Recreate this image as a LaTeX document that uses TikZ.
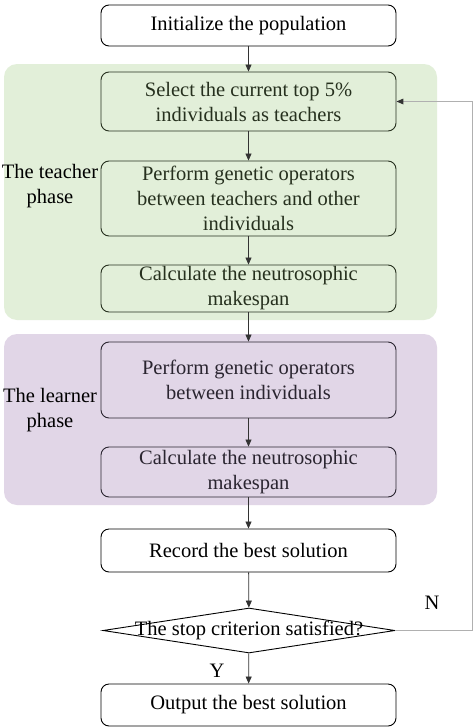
\documentclass[tikz,border=0pt]{standalone}
\usepackage{fontspec}
\setmainfont{Liberation Serif}
\usetikzlibrary{shapes.geometric,arrows.meta}
\definecolor{gfill}{HTML}{E2EFD9}
\definecolor{pfill}{HTML}{E1D6E7}
\definecolor{gtext}{HTML}{26301E}
\definecolor{ptext}{HTML}{2A2530}
\definecolor{loopc}{HTML}{B0B0B0}
\tikzset{
  x=1pt, y=-1pt,
  every node/.style={font=\rmfamily\fontsize{20.5}{25}\selectfont, inner sep=0pt},
  procbox/.style={draw, rounded corners=8pt, minimum width=295pt, align=center, line width=0.9pt},
  region/.style={rounded corners=13pt},
  arr/.style={-{Triangle[length=7pt,width=6pt]}, line width=0.8pt, draw=black!80},
}
\begin{document}
\begin{tikzpicture}
\useasboundingbox (0,0) rectangle (474,728);
\fill[white] (0,0) rectangle (474,728);
% regions
\fill[gfill, region] (4,64) rectangle (437,320);
\fill[pfill, region] (4,334) rectangle (437,505);
% boxes
\node[procbox, fill=white, minimum height=41pt] (init) at (248.5,25.5) {Initialize the population};
\node[procbox, draw=gtext, text=gtext, minimum height=59pt] (sel) at (248.5,101.5) {Select the current top 5\%\\individuals as teachers};
\node[procbox, draw=gtext, text=gtext, minimum height=75pt] (gen1) at (248.5,198.5) {Perform genetic operators\\between teachers and other\\individuals};
\node[procbox, draw=gtext, text=gtext, minimum height=47pt] (calc1) at (248.5,288.5) {Calculate the neutrosophic\\makespan};
\node[procbox, draw=ptext, text=ptext, minimum height=76pt] (gen2) at (248.5,380) {Perform genetic operators\\between individuals};
\node[procbox, draw=ptext, text=ptext, minimum height=50pt] (calc2) at (248.5,472) {Calculate the neutrosophic\\makespan};
\node[procbox, fill=white, minimum height=43pt] (rec) at (248.5,550.5) {Record the best solution};
\node[diamond, draw, line width=0.9pt, minimum width=292pt, minimum height=45pt, inner sep=0pt] (dia) at (249,630.5) {};
\node (diat) at (249,630.5) {The stop criterion satisfied?};
\node[procbox, fill=white, minimum height=42pt] (out) at (248.5,705) {Output the best solution};
% phase labels
\node[align=center] (tl) at (50,186) {The teacher\\phase};
\node[align=center] (ll) at (50,410) {The learner\\phase};
% arrows
\draw[arr] (init) -- (sel);
\draw[arr] (sel) -- (gen1);
\draw[arr] (gen1) -- (calc1);
\draw[arr] (calc1) -- (gen2);
\draw[arr] (gen2) -- (calc2);
\draw[arr] (calc2) -- (rec);
\draw[arr] (rec) -- (dia);
\draw[arr] (dia) -- (out);
\coordinate (c1) at (472.5,630.5);
\coordinate (c2) at (472.5,101.5);
\draw[loopc, line width=1.3pt] (dia.east) -- (c1) -- (c2) -- (sel.east);
\fill[black!80] (sel.east) -- ++(7,-3) -- ++(0,6) -- cycle;
\node (N) at (432,603) {N};
\node (Y) at (217,671) {Y};
\end{tikzpicture}
\end{document}
